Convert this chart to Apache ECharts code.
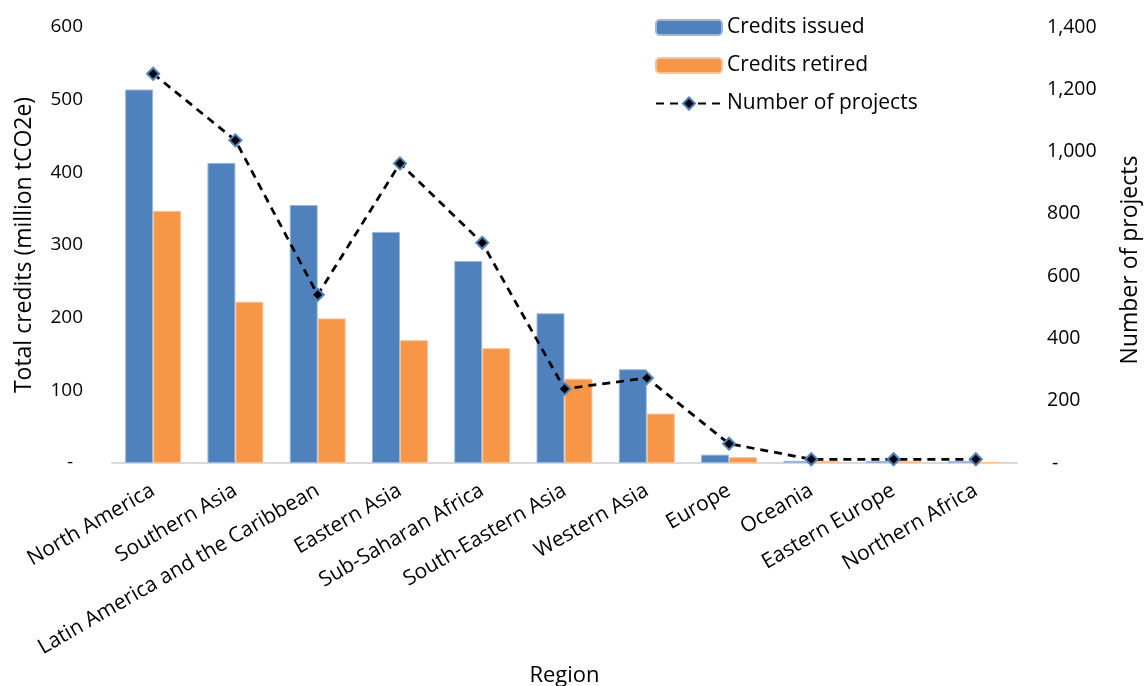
<!DOCTYPE html>
<html>
<head>
<meta charset="utf-8">
<title>Credits by region</title>
<script src="https://cdn.jsdelivr.net/npm/echarts@6/dist/echarts.min.js"></script>
<style>
    html, body { margin: 0; padding: 0; background: #fff; }
    #chart { width: 1144px; height: 686px; }
</style>
</head>
<body>
<div id="chart"></div>
<script>
// 地区
var regions = ['North America', 'Southern Asia', 'Latin America and the Caribbean', 'Eastern Asia',
    'Sub-Saharan Africa', 'South-Eastern Asia', 'Western Asia', 'Europe', 'Oceania', 'Eastern Europe', 'Northern Africa'];
// 签发量 (million tCO2e)
var creditsIssued = [514, 413, 355, 318, 278, 206, 129, 11.5, 3, 2.5, 2.5];
// 注销量
var creditsRetired = [347, 222, 199, 169, 158, 116, 68, 8, 3, 2.5, 1.5];
// 项目数
var projectCounts = [1250, 1036, 540, 962, 707, 238, 273, 62, 12, 12, 12];

var font = '"Open Sans", Lato, sans-serif';

var myChart = echarts.init(document.getElementById('chart'));
var option = {
    textStyle: {fontFamily: font},
    animation: false,
    legend: {
        orient: 'vertical',
        left: 650,
        top: 12,
        itemWidth: 66,
        itemHeight: 15,
        itemGap: 17,
        textStyle: {color: '#000', fontSize: 21, fontFamily: font},
        data: ['Credits issued', 'Credits retired', 'Number of projects']
    },
    grid: {
        left: 112,
        right: 127,
        top: 27,
        bottom: 223,
        outerBoundsMode: 'none'
    },
    xAxis: {
        type: 'category',
        data: regions,
        name: 'Region',
        nameLocation: 'middle',
        nameGap: 201,
        nameTextStyle: {color: '#000', fontSize: 22},
        axisLine: {lineStyle: {color: '#D9D9D9', width: 2}},
        axisTick: {show: false},
        axisLabel: {
            interval: 0,
            rotate: 30,
            color: '#000',
            fontSize: 21,
            margin: 26
        }
    },
    yAxis: [
        {
            type: 'value',
            min: 0,
            max: 600,
            interval: 100,
            name: 'Total credits (million tCO2e)',
            nameLocation: 'middle',
            nameGap: 76,
            nameTextStyle: {color: '#000', fontSize: 23},
            axisLine: {show: false},
            axisTick: {show: false},
            splitLine: {show: false},
            axisLabel: {
                color: '#000',
                fontSize: 19,
                margin: 29,
                formatter: function (v) {
                    return v === 0 ? '-  ' : v;
                }
            }
        },
        {
            type: 'value',
            min: 0,
            max: 1400,
            interval: 200,
            name: 'Number of projects',
            nameLocation: 'middle',
            nameGap: 102,
            nameTextStyle: {color: '#000', fontSize: 23, padding: [0, 30, 0, 0]},
            axisLine: {show: false},
            axisTick: {show: false},
            splitLine: {show: false},
            axisLabel: {
                color: '#000',
                fontSize: 19.5,
                margin: 30,
                formatter: function (v) {
                    return v === 0 ? ' -' : v.toLocaleString('en-US');
                }
            }
        }
    ],
    series: [
        {
            name: 'Credits issued',
            type: 'bar',
            barGap: '0%',
            barCategoryGap: '32%',
            itemStyle: {color: '#4F81BD', borderColor: '#9DB7DA', borderWidth: 1},
            data: creditsIssued
        },
        {
            name: 'Credits retired',
            type: 'bar',
            itemStyle: {color: '#F79646', borderColor: '#F9C39A', borderWidth: 1},
            data: creditsRetired
        },
        {
            name: 'Number of projects',
            type: 'line',
            yAxisIndex: 1,
            symbol: 'diamond',
            symbolSize: 12,
            lineStyle: {color: '#000', width: 2.75, type: [8, 6]},
            itemStyle: {color: '#000', borderColor: '#4F81BD', borderWidth: 2},
            z: 5,
            data: projectCounts
        }
    ]
};
myChart.setOption(option);
</script>
</body>
</html>
